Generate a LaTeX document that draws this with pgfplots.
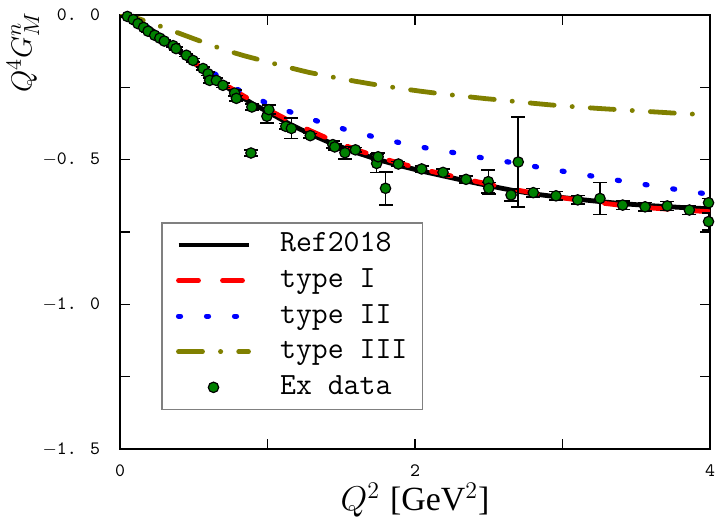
\documentclass[border=0pt]{standalone}
\usepackage{fontspec}
\usepackage{graphicx}
\usepackage{pgfplots}
\usepackage{pgfplotstable}
\pgfplotsset{compat=1.18}
\newfontfamily\timesf{Liberation Serif}
\definecolor{cOlive}{RGB}{128,128,0}
\definecolor{cGreen}{RGB}{0,128,0}
\pgfplotsset{
  dotlegend/.style={legend image code/.code={\path (0bp,0bp) (35bp,0bp);
    \draw[##1] plot coordinates {(17.5bp,0bp)};}},
}

% experimental points: Q^2, Q^4 G_M^n, error
\pgfplotstableread{
x y e
0.05 -0.005 0.002
0.09 -0.016 0.003
0.122 -0.030 0.003
0.16 -0.043 0.003
0.19 -0.056 0.003
0.235 -0.070 0.004
0.27 -0.080 0.004
0.30 -0.090 0.004
0.36 -0.106 0.005
0.38 -0.116 0.005
0.45 -0.139 0.005
0.495 -0.157 0.006
0.563 -0.185 0.006
0.597 -0.203 0.006
0.608 -0.226 0.008
0.653 -0.226 0.008
0.698 -0.243 0.008
0.777 -0.270 0.010
0.789 -0.288 0.010
0.888 -0.477 0.010
0.894 -0.318 0.010
0.996 -0.350 0.023
1.009 -0.327 0.015
1.124 -0.385 0.010
1.162 -0.392 0.035
1.29 -0.417 0.008
1.443 -0.448 0.012
1.456 -0.456 0.010
1.525 -0.476 0.022
1.596 -0.466 0.008
1.74 -0.513 0.032
1.75 -0.490 0.012
1.80 -0.599 0.057
1.887 -0.515 0.008
2.045 -0.532 0.010
2.19 -0.544 0.012
2.346 -0.568 0.012
2.497 -0.576 0.040
2.50 -0.599 0.020
2.651 -0.622 0.020
2.70 -0.508 0.155
2.802 -0.614 0.015
2.956 -0.625 0.015
3.103 -0.639 0.015
3.254 -0.634 0.055
3.408 -0.657 0.015
3.56 -0.663 0.015
3.71 -0.660 0.015
3.86 -0.674 0.015
3.99 -0.649 0.015
3.99 -0.714 0.030
}\exdata

\begin{document}
\begin{tikzpicture}
\useasboundingbox (-60bp,-40bp) rectangle (297.5bp,224.5bp);
\begin{axis}[name=ax, at={(0,0)}, anchor=south west,
  scale only axis, width=295bp, height=217bp,
  xmin=0, xmax=4, ymin=-1.5, ymax=0,
  xtick={0,2,4}, minor xtick={1,3},
  ytick={-1.5,-1,-0.5,0}, minor ytick={-1.25,-0.75,-0.25},
  xticklabels={0,2,4},
  yticklabels={{$-$1. 5},{$-$1. 0},{$-$0. 5},{0. 0}},
  tick align=inside, major tick length=5bp, minor tick length=5bp,
  tick style={line width=0.8bp, black},
  axis line style={line width=0.9bp},
  ticklabel style={font=\fontsize{9.5}{11}\ttfamily},
  yticklabel style={xshift=-6.5bp},
  xticklabel style={yshift=-4.5bp},
  legend cell align=left,
  legend style={at={(0.07,0.09)}, anchor=south west, draw=black!50,
    line width=0.6bp, font=\fontsize{15.5}{18}\ttfamily,
    inner xsep=7bp, inner ysep=2.5bp, row sep=0.8bp,
    /tikz/column sep=14bp,
    nodes={text height=10.5bp, text depth=3.5bp, inner ysep=1.5bp, inner xsep=0.5bp}},
  legend image code/.code={\draw[#1] (0bp,0bp) -- (35bp,0bp);},
]
\addplot[black, line width=2.4bp] coordinates {
(0,0) (0.05,-0.004) (0.1,-0.015) (0.15,-0.029) (0.2,-0.046) (0.3,-0.085)
(0.4,-0.125) (0.5,-0.165) (0.6,-0.204) (0.7,-0.241) (0.8,-0.276) (0.9,-0.307)
(1.0,-0.334) (1.15,-0.377) (1.3,-0.414) (1.45,-0.447) (1.6,-0.475) (1.75,-0.500)
(1.9,-0.521) (2.05,-0.540) (2.2,-0.557) (2.35,-0.574) (2.5,-0.590) (2.65,-0.605)
(2.8,-0.618) (3.0,-0.631) (3.2,-0.642) (3.4,-0.652) (3.6,-0.659) (3.8,-0.665) (4.0,-0.670)};
\addlegendentry{Ref2018}
\addplot[red, line width=2.4bp, line cap=round, dash pattern=on 10bp off 12bp] coordinates {
(0,0) (0.1,-0.015) (0.2,-0.046) (0.3,-0.085) (0.4,-0.125) (0.5,-0.164)
(0.6,-0.201) (0.7,-0.236) (0.8,-0.268) (0.9,-0.298) (1.0,-0.326) (1.15,-0.366)
(1.3,-0.402) (1.45,-0.436) (1.6,-0.465) (1.75,-0.491) (1.9,-0.513) (2.05,-0.533)
(2.2,-0.551) (2.35,-0.568) (2.5,-0.585) (2.65,-0.601) (2.8,-0.615) (3.0,-0.632)
(3.2,-0.646) (3.4,-0.658) (3.6,-0.667) (3.8,-0.674) (4.0,-0.680)};
\addlegendentry{type I}
\addplot[blue, line width=2.6bp, line cap=round, dash pattern=on 1bp off 13bp] coordinates {
(0,0) (0.1,-0.015) (0.2,-0.046) (0.3,-0.085) (0.4,-0.124) (0.5,-0.160)
(0.6,-0.192) (0.65,-0.206) (0.79,-0.256) (0.98,-0.301) (1.16,-0.336) (1.34,-0.367)
(1.53,-0.396) (1.72,-0.421) (1.91,-0.443) (2.10,-0.462) (2.29,-0.478) (2.48,-0.496)
(2.67,-0.511) (2.86,-0.528) (3.05,-0.544) (3.24,-0.560) (3.43,-0.576) (3.61,-0.590)
(3.81,-0.606) (4.0,-0.620)};
\addlegendentry{type II}
\addplot[cOlive, line width=2.4bp, line cap=round, dash pattern=on 12bp off 9bp on 0.1bp off 9bp] coordinates {
(0,0) (0.05,-0.002) (0.1,-0.008) (0.156,-0.018) (0.28,-0.040) (0.416,-0.066)
(0.585,-0.098) (0.71,-0.121) (0.843,-0.141) (1.022,-0.165) (1.149,-0.182) (1.277,-0.198)
(1.456,-0.216) (1.584,-0.228) (1.711,-0.239) (1.903,-0.254) (2.031,-0.263) (2.171,-0.272)
(2.35,-0.282) (2.478,-0.289) (2.605,-0.295) (2.797,-0.305) (2.925,-0.311) (3.052,-0.316)
(3.244,-0.323) (3.372,-0.327) (3.499,-0.331) (3.691,-0.337) (3.819,-0.341) (4.0,-0.345)};
\addlegendentry{type III}
\addplot[only marks, mark=*, mark size=2.6bp,
  mark options={fill=cGreen, draw=black, line width=0.6bp},
  dotlegend,
  error bars/.cd, y dir=both, y explicit,
  error bar style={black, line width=0.8bp},
  error mark options={rotate=90, black, mark size=3.5bp, line width=0.8bp}]
  table[x=x, y=y, y error=e] {\exdata};
\addlegendentry{Ex data}
\end{axis}
\node[font=\fontsize{15}{18}\selectfont, inner sep=0pt] at (-48.5bp,198.5bp) {\rotatebox{90}{$Q^4G_M^n$}};
\node[font=\fontsize{17}{20}\selectfont] at (147.5bp,-25.5bp) {$Q^2$ \timesf[GeV$^2$]};
\end{tikzpicture}
\end{document}
